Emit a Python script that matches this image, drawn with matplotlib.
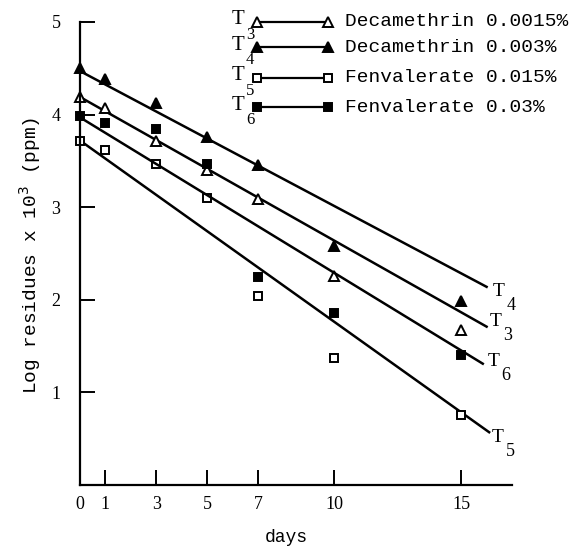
import matplotlib
matplotlib.use("Agg")
import matplotlib.pyplot as plt
from matplotlib.lines import Line2D

# sampling days and residues
days = [0, 1, 3, 5, 7, 10, 15]
t3 = [4.19, 4.07, 3.72, 3.40, 3.09, 2.26, 1.67]
t4 = [4.50, 4.38, 4.12, 3.76, 3.46, 2.58, 1.99]
t5 = [3.71, 3.62, 3.47, 3.10, 2.04, 1.37, 0.76]
t6 = [3.98, 3.91, 3.84, 3.47, 2.25, 1.86, 1.40]

# fitted lines: value at day 0 and at the end day
fit_start = {"3": 4.19, "4": 4.47, "5": 3.72, "6": 3.97}
fit_end = {"3": 1.71, "4": 2.14, "5": 0.57, "6": 1.31}
fit_end_day = {"3": 16.0, "4": 16.0, "5": 16.1, "6": 15.85}

names = ["3", "4", "5", "6"]
legend_text = ["Decamethrin 0.0015%", "Decamethrin 0.003%",
               "Fenvalerate 0.015%", "Fenvalerate 0.03%"]
xticks = [0, 1, 3, 5, 7, 10, 15]
yticks = [1, 2, 3, 4, 5]

series = {"3": t3, "4": t4, "5": t5, "6": t6}
mk = {"3": dict(marker="^", mfc="white", ms=7),
      "4": dict(marker="^", mfc="black", ms=7),
      "5": dict(marker="s", mfc="white", ms=6),
      "6": dict(marker="s", mfc="black", ms=6)}

W, H = 578, 547
fig = plt.figure(figsize=(W / 100, H / 100), dpi=100)
ax = fig.add_axes([80 / W, 1 - 485 / H, 432 / W, 463 / H])


def px(x, y):
    return x / W, 1 - y / H


serif = "Liberation Serif"
mono = "Liberation Mono"

for n in names:
    ax.plot([0, fit_end_day[n]], [fit_start[n], fit_end[n]], color="black", lw=1.8)
    ax.plot(days, series[n], ls="none", mec="black", mew=1.4, clip_on=False, **mk[n])

ax.set_xlim(0, 17)
ax.set_ylim(0, 5)
ax.spines["top"].set_visible(False)
ax.spines["right"].set_visible(False)
for s in ["left", "bottom"]:
    ax.spines[s].set_linewidth(1.6)

ax.set_xticks(xticks)
ax.set_yticks(yticks)
ax.tick_params(direction="in", length=11, width=1.4, labelsize=13, pad=8)
ax.tick_params(axis="y", pad=14)
for lab in ax.get_xticklabels() + ax.get_yticklabels():
    lab.set_fontfamily(serif)

fig.text(30 / W, 1 - 255 / H, r"Log residues x 10$^3$ (ppm)", rotation=90,
         ha="center", va="center", fontsize=14, fontfamily=mono)
fig.text(*px(286, 538), "days", ha="center", va="center", fontsize=13, fontfamily=mono)

# T labels at line ends
end_lbl = {"4": (499, 292), "3": (496, 322), "6": (494, 362), "5": (498, 437)}
for n in names:
    x, y = end_lbl[n]
    fig.text(*px(x, y), "T", ha="center", va="center", fontsize=14, fontfamily=serif)
    fig.text(*px(x + 12, y + 14), n, ha="center", va="center", fontsize=13, fontfamily=serif)

# legend drawn by hand
rows = [22, 47, 78, 107]
for n, txt, y in zip(names, legend_text, rows):
    fx, fy = px(257, y)
    gx, _ = px(328, y)
    fig.add_artist(Line2D([fx, gx], [fy, fy], color="black", lw=1.6, mec="black",
                          mew=1.4, **mk[n]))
    fig.text(*px(345, y), txt, ha="left", va="center", fontsize=14, fontfamily=mono)
    fig.text(*px(238, y - 2), "T", ha="center", va="center", fontsize=15, fontfamily=serif)
    fig.text(*px(250, y + 13), n, ha="center", va="center", fontsize=12, fontfamily=serif)

fig.savefig("out.png", dpi=100)
